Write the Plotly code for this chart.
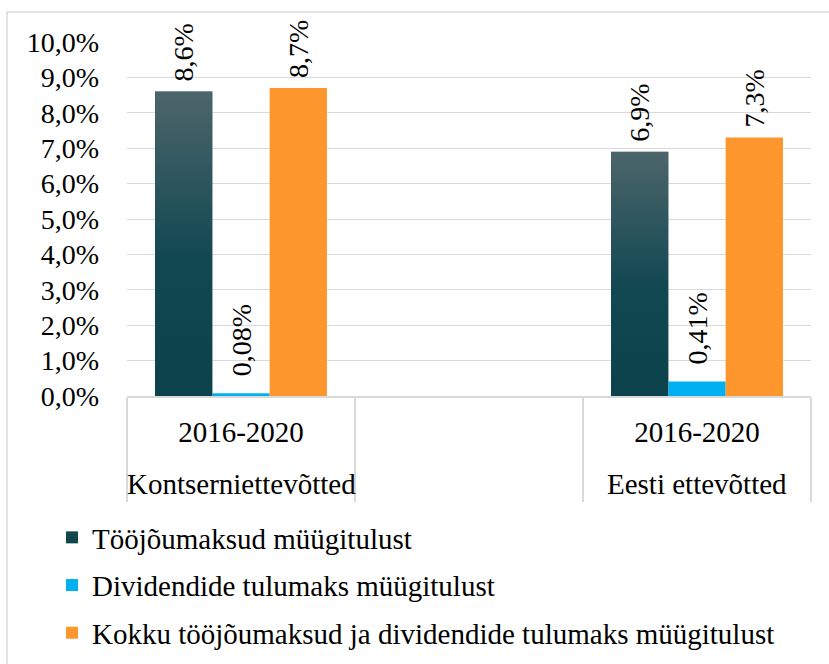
import base64
import plotly.graph_objects as go

# Categories: company group (outer label) and period (inner label); middle slot is a spacer
groups = ["Kontserniettevõtted", " ", "Eesti ettevõtted"]
periods = ["2016-2020", " ", "2016-2020"]

series_names = [
    "Tööjõumaksud müügitulust",
    "Dividendide tulumaks müügitulust",
    "Kokku tööjõumaksud ja dividendide tulumaks müügitulust",
]
labor_tax = [0.086, None, 0.069]
dividend_tax = [0.0008, None, 0.0041]
total_tax = [0.087, None, 0.073]

y_ticks = [i / 100 for i in range(0, 11)]

FONT = "Liberation Serif"
W, H = 829, 664
L, R, T, B = 127, 18, 42, 268
PW, PH = W - L - R, H - T - B
BARGAP = 0.246
GRID = "#d9d9d9"
NBSP = "\u00a0"

colors = ["#12464f", "#00b0f0", "#fc962d"]
formats = [NBSP + "%{y:.1%}", NBSP * 2 + "%{y:.2%}", NBSP + "%{y:.1%}"]
values = [labor_tax, dividend_tax, total_tax]

fig = go.Figure()
for i, (name, vals) in enumerate(zip(series_names, values)):
    fig.add_trace(go.Bar(
        name=name,
        x=groups,
        y=vals,
        marker=dict(color=colors[i], line=dict(width=0)),
        texttemplate=formats[i],
        textposition="outside",
        textangle=-90,
        textfont=dict(family=FONT, size=28, color="#000000"),
        constraintext="none",
        cliponaxis=False,
        legendgroup=f"g{i}",
        hoverinfo="skip",
    ))


def px_x(p):
    return (p - L) / PW


def px_y(p):
    return (H - B - p) / PH


# Vertical gradient for the first series, laid over each of its bars
grad_svg = (
    "<svg xmlns='http://www.w3.org/2000/svg' viewBox='0 0 10 100' "
    "preserveAspectRatio='none' width='10' height='100'>"
    "<defs><linearGradient id='g' x1='0' y1='0' x2='0' y2='1'>"
    "<stop offset='0' stop-color='#4c656a'/>"
    "<stop offset='0.55' stop-color='#124852'/>"
    "<stop offset='1' stop-color='#0c424c'/>"
    "</linearGradient></defs>"
    "<rect width='10' height='100' fill='url(#g)'/></svg>"
)
grad_src = "data:image/svg+xml;base64," + base64.b64encode(grad_svg.encode()).decode()
n_cat = len(groups)
bar_w = (1 - BARGAP) / len(series_names)
images = []
for idx, v in enumerate(labor_tax):
    if v is None:
        continue
    left = idx - (1 - BARGAP) / 2
    images.append(dict(
        source=grad_src, xref="paper", yref="y",
        x=(left + 0.5) / n_cat, y=v, sizex=bar_w / n_cat, sizey=v,
        xanchor="left", yanchor="top", sizing="stretch", layer="above",
    ))

# Outer (company group) labels under the period labels
group_labels = [
    dict(text=g, x=g, xref="x", y=px_y(484), yref="paper",
         xanchor="center", yanchor="middle", showarrow=False,
         font=dict(family=FONT, size=29, color="#000000"))
    for g in groups if g.strip()
]

fig.update_layout(
    width=W, height=H,
    margin=dict(l=L, r=R, t=T, b=B, autoexpand=False),
    paper_bgcolor="white", plot_bgcolor="white",
    separators=", ",
    barmode="group", bargap=BARGAP, bargroupgap=0,
    font=dict(family=FONT, size=29, color="#000000"),
    showlegend=True,
    legend=dict(
        orientation="v", x=px_x(52), y=px_y(512), xanchor="left", yanchor="top",
        font=dict(family=FONT, size=29, color="#000000"),
        tracegroupgap=7, bgcolor="rgba(0,0,0,0)",
    ),
    images=images,
    annotations=group_labels,
    shapes=[dict(
        type="rect", xref="paper", yref="paper",
        x0=px_x(7), x1=px_x(840), y0=px_y(680), y1=px_y(12),
        line=dict(color=GRID, width=1.5), fillcolor="rgba(0,0,0,0)", layer="below",
    )],
    # period labels with dividers on category boundaries
    xaxis=dict(
        type="category", categoryorder="array", categoryarray=groups,
        range=[-0.5, n_cat - 0.5], tickmode="array", tickvals=groups, ticktext=periods,
        tickson="boundaries", ticks="outside", ticklen=104, tickwidth=1.5,
        tickcolor=GRID, ticklabelstandoff=9,
        showgrid=False, showline=True, linecolor=GRID, linewidth=1.5,
        zeroline=False,
        tickfont=dict(family=FONT, size=29, color="#000000"),
    ),
    yaxis=dict(
        range=[0, 0.10], tickvals=y_ticks, tickformat=".1%",
        showgrid=True, gridcolor=GRID, gridwidth=1.2,
        zeroline=False, showline=False, ticks="",
        ticklabelstandoff=27,
        tickfont=dict(family=FONT, size=28, color="#000000"),
    ),
)

fig.write_html("out.html")
